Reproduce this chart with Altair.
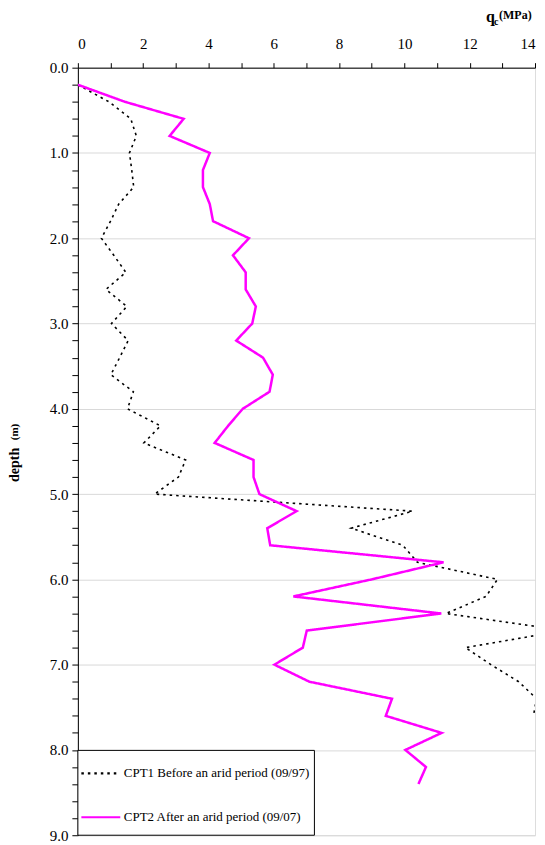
import altair as alt
import pandas as pd

FONT = "Liberation Serif, Times New Roman, serif"

depth1 = [round(0.2 * i, 1) for i in range(1, 39)]  # 0.2 .. 7.6
qc1 = [0.0, 0.95, 1.62, 1.79, 1.58, 1.65, 1.71, 1.25, 1.0, 0.72,
       1.1, 1.47, 0.86, 1.5, 1.03, 1.54, 1.28, 1.01, 1.7, 1.52,
       2.53, 2.02, 3.3, 3.08, 2.35, 10.25, 8.37, 9.95, 10.4, 12.85,
       12.5, 11.27, 14.9, 11.87, 12.65, 13.5, 14.05, 13.95]

depth2 = [round(0.2 * i, 1) for i in range(1, 43)]  # 0.2 .. 8.4
qc2 = [0.0, 1.44, 3.24, 2.81, 4.04, 3.83, 3.83, 4.04, 4.14, 5.24,
       4.75, 5.14, 5.14, 5.45, 5.34, 4.85, 5.67, 5.97, 5.87, 5.05,
       4.6, 4.19, 5.38, 5.38, 5.56, 6.7, 5.8, 5.89, 11.2, 9.0,
       6.6, 11.13, 7.01, 6.89, 6.02, 7.09, 9.62, 9.43, 11.14, 10.03,
       10.66, 10.43]

series_names = ["CPT1 Before an arid period (09/97)", "CPT2 After an arid period (09/07)"]
x_ticks = list(range(0, 15))
y_ticks = [round(0.2 * i, 1) for i in range(0, 46)]

df = pd.concat([
    pd.DataFrame({"depth": depth1, "qc": qc1, "series": series_names[0]}),
    pd.DataFrame({"depth": depth2, "qc": qc2, "series": series_names[1]}),
], ignore_index=True)

W, H = 458, 769

is_major = "abs(datum.value - round(datum.value)) < 0.001"

x_enc = alt.X("qc:Q", scale=alt.Scale(domain=[0, 14], nice=False, zero=False),
              axis=alt.Axis(orient="top", values=x_ticks, title=None,
                            labelExpr="datum.value % 2 == 0 ? datum.value : ''",
                            grid=False, tickSize=5, labelPadding=11,
                            labelFontSize=15, labelFont=FONT, labelColor="black",
                            domainColor="black", tickColor="black"))
y_enc = alt.Y("depth:Q", scale=alt.Scale(domain=[0, 9], reverse=True, nice=False),
              axis=alt.Axis(values=y_ticks, title=None,
                            labelExpr=is_major + " ? format(datum.value, '.1f') : ''",
                            grid=True, gridColor="#d9d9d9",
                            gridOpacity={"condition": {"test": is_major, "value": 1}, "value": 0},
                            tickSize=6, labelPadding=4,
                            labelFontSize=15, labelFont=FONT, labelColor="black",
                            domainColor="black", tickColor="black"))
color_enc = alt.Color("series:N", scale=alt.Scale(domain=series_names, range=["black", "#FF00FF"]),
                      legend=alt.Legend(orient="none", legendX=2, legendY=686, title=None,
                                        symbolType="stroke", symbolSize=1521,
                                        symbolStrokeWidth=2.2, labelFont=FONT,
                                        labelFontSize=13, labelColor="black",
                                        labelLimit=400, rowPadding=16, labelOffset=2,
                                        padding=0))
dash_enc = alt.StrokeDash("series:N", scale=alt.Scale(domain=series_names, range=[[2.5, 4], [1, 0]]),
                          legend=None)

one = pd.DataFrame({"a": [0]})

legend_box = alt.Chart(one).mark_rect(fill="white", stroke="black", strokeWidth=1).encode(
    x=alt.value(0), x2=alt.value(237), y=alt.value(684), y2=alt.value(769))

base = alt.Chart(df).encode(x=x_enc, y=y_enc, color=color_enc, strokeDash=dash_enc,
                            order=alt.Order("depth:Q"))
line1 = base.transform_filter(alt.datum.series == series_names[0]).mark_line(strokeWidth=1.6, clip=True)
line2 = base.transform_filter(alt.datum.series == series_names[1]).mark_line(strokeWidth=2.5, clip=True)

def label(txt, x, y, size, angle=0, align="left", baseline="alphabetic"):
    return alt.Chart(one).mark_text(text=txt, font=FONT, fontSize=size, fontWeight="bold",
                                    color="black", angle=angle, align=align,
                                    baseline=baseline).encode(x=alt.value(x), y=alt.value(y))

t_q = label("q", 409, -46, 16)
t_c = label("c", 417, -43, 10)
t_mpa = label("(MPa)", 422, -49, 12)
t_depth = label("depth", -63, 398, 14, angle=270, align="center", baseline="middle")
t_m = label("(m)", -63, 365, 11, angle=270, align="center", baseline="middle")

chart = alt.layer(legend_box, line1, line2, t_q, t_c, t_mpa, t_depth, t_m).properties(
    width=W, height=H,
    autosize=alt.AutoSizeParams(type="none"),
    padding={"left": 70, "top": 59, "right": 2, "bottom": 8},
).configure_view(stroke="#999999", strokeWidth=1).configure(font=FONT)

chart.save("out.html", embed_options={"renderer": "svg", "actions": False})
